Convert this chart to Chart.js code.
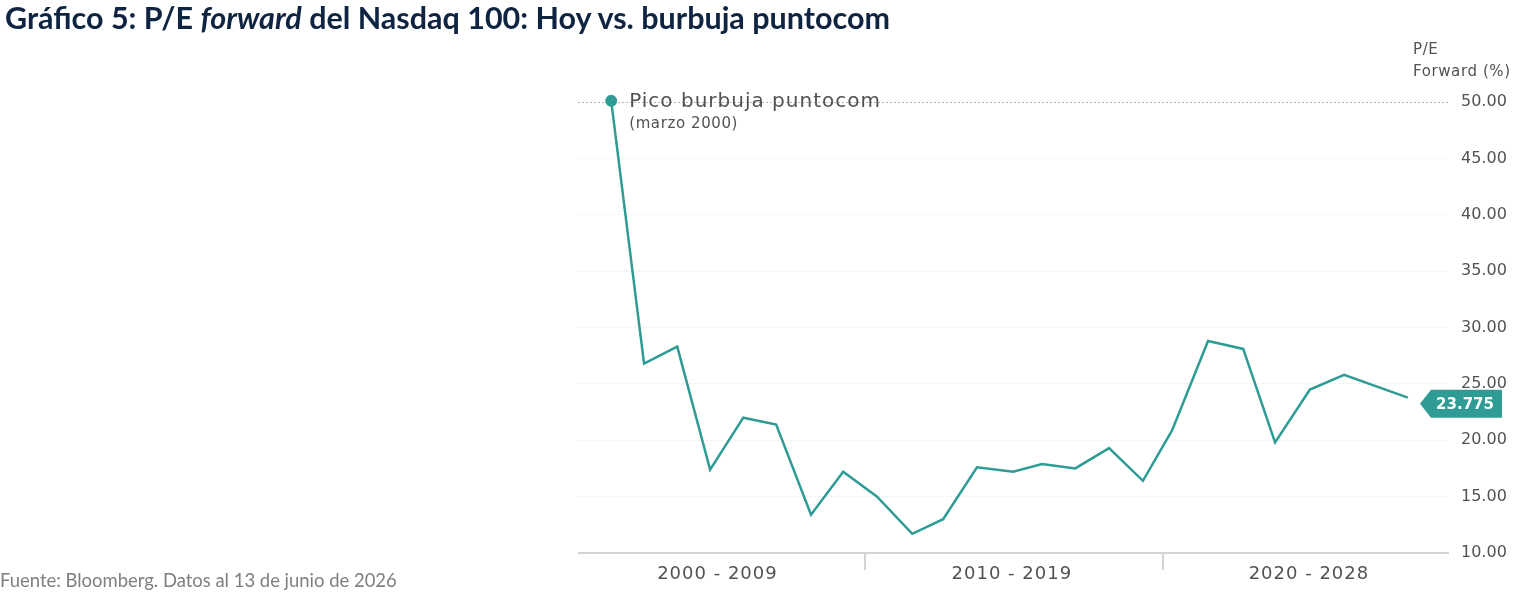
<!DOCTYPE html>
<html>
<head>
<meta charset="utf-8">
<script src="https://cdn.jsdelivr.net/npm/chart.js@4.4.1/dist/chart.umd.min.js"></script>
<style>
  html, body { margin: 0; padding: 0; background: #ffffff; }
  #wrap { position: relative; width: 1513px; height: 596px; overflow: hidden; background: #fff; }
  #title { position: absolute; left: 5px; top: 2px; font-family: Lato, "Open Sans", sans-serif; font-weight: 700; color: #0e2440; white-space: nowrap; font-size: 25px; line-height: 30px; }
  #title i { font-style: italic; }
  #footer { position: absolute; left: 0px; top: 569px; font-family: Lato, "Open Sans", sans-serif; color: #7f7f7f; white-space: nowrap; font-size: 16px; line-height: 22px; }
  canvas { position: absolute; left: 0; top: 0; }
</style>
</head>
<body>
<div id="wrap">
  <canvas id="c" width="1513" height="596"></canvas>
  <div id="title">Gráfico 5: P/E <i>forward</i> del Nasdaq 100: Hoy vs. burbuja puntocom</div>
  <div id="footer">Fuente: Bloomberg. Datos al 13 de junio de 2026</div>
</div>
<script>
// ---- data ----
const periodIndex = [0, 0.99, 1.99, 2.98, 3.98, 4.97, 6.02, 6.99, 8.01, 9.07, 10.0, 11.02, 12.11, 12.98, 13.98, 15.0, 16.02, 16.9, 17.98, 19.04, 20.0, 21.05, 22.08, 24.0];
const peForward   = [50.1, 26.8, 28.3, 17.4, 22.0, 21.4, 13.4, 17.2, 15.0, 11.7, 13.0, 17.6, 17.2, 17.9, 17.5, 19.3, 16.4, 20.9, 28.8, 28.1, 19.8, 24.5, 25.8, 23.775];
const decadeLabels  = ['2000 - 2009', '2010 - 2019', '2020 - 2028'];
const decadeCenters = [3.2, 12.07, 21.02];
const decadeBreaks  = [7.65, 16.63];
const yTickMin = 10, yTickMax = 50, yTickStep = 5;
const peakLabel = 'Pico burbuja puntocom';
const peakSubLabel = '(marzo 2000)';
const lastLabel = '23.775';
const yAxisTitle = ['P/E', 'Forward (%)'];

const TEAL = '#2e9c95';
const GRAY_TEXT = '#525252';
const FONT = '"DejaVu Sans", Inter, sans-serif';

// fit title & footer widths
function fitWidth(el, target) {
  const fs = parseFloat(getComputedStyle(el).fontSize);
  const w = el.getBoundingClientRect().width;
  el.style.fontSize = (fs * target / w).toFixed(2) + 'px';
}
fitWidth(document.getElementById('title'), 885);
fitWidth(document.getElementById('footer'), 397);

const points = periodIndex.map((x, i) => ({ x: x, y: peForward[i] }));

function setSpacing(ctx, px) { if ('letterSpacing' in ctx) ctx.letterSpacing = px + 'px'; }

const decorPlugin = {
  id: 'decor',
  afterDatasetsDraw(chart) {
    const ctx = chart.ctx;
    const xs = chart.scales.x, ys = chart.scales.y;
    const area = chart.chartArea;
    ctx.save();
    // bottom axis line
    ctx.strokeStyle = '#d4d4d4';
    ctx.lineWidth = 2;
    ctx.beginPath();
    ctx.moveTo(area.left, area.bottom);
    ctx.lineTo(area.right, area.bottom);
    ctx.stroke();
    // decade dividers
    decadeBreaks.forEach(b => {
      const px = Math.round(xs.getPixelForValue(b));
      ctx.beginPath();
      ctx.moveTo(px, area.bottom);
      ctx.lineTo(px, area.bottom + 17);
      ctx.stroke();
    });
    // decade labels
    ctx.fillStyle = GRAY_TEXT;
    ctx.font = '18px ' + FONT;
    setSpacing(ctx, 1);
    ctx.textAlign = 'center';
    ctx.textBaseline = 'middle';
    decadeLabels.forEach((l, i) => {
      ctx.fillText(l, xs.getPixelForValue(decadeCenters[i]), area.bottom + 21);
    });
    // y axis title
    ctx.textAlign = 'left';
    ctx.textBaseline = 'alphabetic';
    ctx.font = '15px ' + FONT;
    setSpacing(ctx, 0.6);
    ctx.fillText(yAxisTitle[0], 1413, 54);
    ctx.fillText(yAxisTitle[1], 1413, 76);
    // peak annotation
    const p0x = xs.getPixelForValue(periodIndex[0]);
    const p0y = ys.getPixelForValue(peForward[0]);
    ctx.font = '20px ' + FONT;
    setSpacing(ctx, 1);
    ctx.fillText(peakLabel, p0x + 18, p0y + 6);
    ctx.font = '15px ' + FONT;
    setSpacing(ctx, 0.6);
    ctx.fillText(peakSubLabel, p0x + 18, p0y + 27);
    // last value tag
    setSpacing(ctx, 0);
    const ly = ys.getPixelForValue(peForward[peForward.length - 1]) + 6;
    const tipX = area.right - 29;
    ctx.fillStyle = TEAL;
    ctx.beginPath();
    ctx.moveTo(tipX, ly);
    ctx.lineTo(tipX + 11, ly - 14);
    ctx.lineTo(tipX + 82, ly - 14);
    ctx.lineTo(tipX + 82, ly + 14);
    ctx.lineTo(tipX + 11, ly + 14);
    ctx.closePath();
    ctx.fill();
    ctx.fillStyle = '#ffffff';
    ctx.font = 'bold 15px ' + FONT;
    ctx.textAlign = 'center';
    ctx.textBaseline = 'middle';
    ctx.fillText(lastLabel, tipX + 45, ly + 1);
    ctx.restore();
  }
};

new Chart(document.getElementById('c'), {
  type: 'line',
  data: {
    datasets: [{
      data: points,
      borderColor: TEAL,
      borderWidth: 2.5,
      tension: 0,
      fill: false,
      pointRadius: ctx => ctx.dataIndex === 0 ? 6 : 0,
      pointHoverRadius: 0,
      pointBackgroundColor: TEAL,
      pointBorderWidth: 0,
      clip: false
    }]
  },
  options: {
    responsive: false,
    animation: false,
    devicePixelRatio: 1,
    layout: { padding: { left: 578, top: 102, bottom: 43, right: 0 } },
    plugins: { legend: { display: false }, tooltip: { enabled: false } },
    scales: {
      x: {
        type: 'linear',
        min: -1,
        max: 25.24,
        display: false
      },
      y: {
        position: 'right',
        min: yTickMin,
        max: yTickMax,
        afterFit: s => { s.width = 64; },
        ticks: {
          stepSize: yTickStep,
          padding: 12,
          color: GRAY_TEXT,
          font: { family: FONT, size: 16 },
          callback: v => Number(v).toFixed(2)
        },
        grid: {
          drawTicks: false,
          lineWidth: 1,
          color: c => c.tick && c.tick.value === yTickMax ? '#b5b5b5' : (c.tick && c.tick.value === yTickMin ? 'rgba(0,0,0,0)' : '#efefef'),
          tickBorderDash: [2, 2]
        },
        border: { display: false, dash: [2, 2] }
      }
    }
  },
  plugins: [decorPlugin]
});
</script>
</body>
</html>
